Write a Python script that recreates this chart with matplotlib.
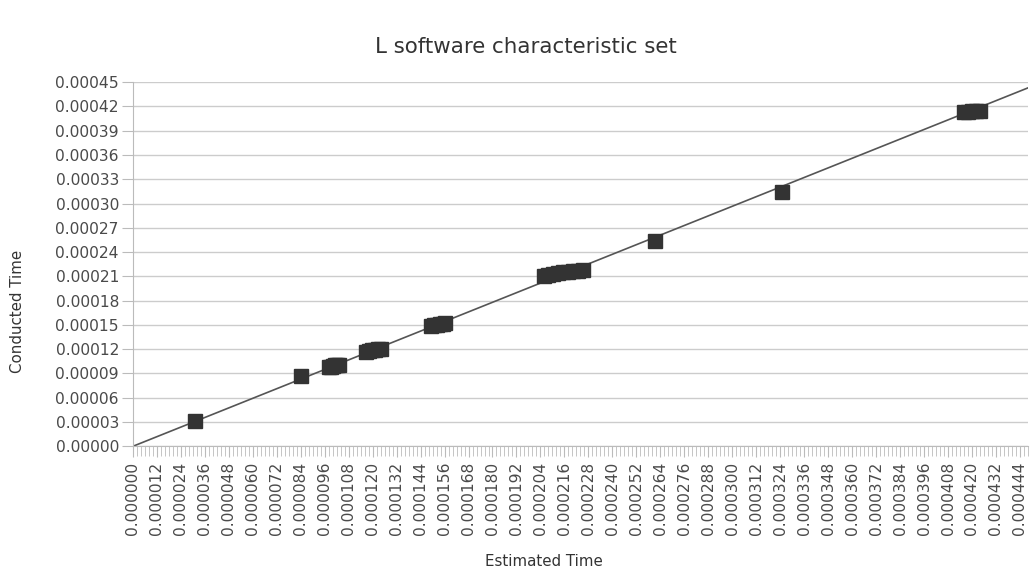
import numpy as np
import matplotlib
matplotlib.use("Agg")
import matplotlib.pyplot as plt
from matplotlib.ticker import MultipleLocator, FormatStrFormatter

# Measured points (estimated vs conducted), grouped by cluster
est_time = [
    0.0000310,
    0.0000840,
    0.0000980, 0.0000990, 0.0001000, 0.0001010, 0.0001020, 0.0001030,
    0.0001167, 0.0001180, 0.0001195, 0.0001210, 0.0001225, 0.0001242,
    0.0001490, 0.0001505, 0.0001520, 0.0001535, 0.0001550, 0.0001560,
    0.0002057, 0.0002080, 0.0002105, 0.0002130, 0.0002155, 0.0002180, 0.0002205, 0.0002230, 0.0002252,
    0.0002615,
    0.0003250,
    0.0004160, 0.0004180, 0.0004200, 0.0004220, 0.0004240,
]
cond_time = [
    0.0000310,
    0.0000865,
    0.0000975, 0.0000985, 0.0000992, 0.0001000, 0.0001005, 0.0001010,
    0.0001170, 0.0001180, 0.0001188, 0.0001195, 0.0001200, 0.0001208,
    0.0001485, 0.0001495, 0.0001502, 0.0001508, 0.0001515, 0.0001520,
    0.0002105, 0.0002120, 0.0002135, 0.0002145, 0.0002152, 0.0002158, 0.0002165, 0.0002172, 0.0002178,
    0.0002535,
    0.0003145,
    0.0004130, 0.0004135, 0.0004140, 0.0004142, 0.0004145,
]

# trend line through origin
trend_x = [0.0, 0.000448]
trend_y = [0.0, 0.000443]

x_max = 0.000448
y_max = 0.00045

plt.rcParams['font.family'] = ['DejaVu Sans']
fig = plt.figure(figsize=(10.30, 5.77), dpi=100)
ax = fig.add_axes([0.129, 0.2265, 0.869, 0.631])

ax.plot(trend_x, trend_y, color='#555555', linewidth=1.2, zorder=2)
ax.plot(est_time, cond_time, linestyle='none', marker='s', markersize=10.5,
        color='#333333', markeredgecolor='#333333', zorder=3)

ax.set_xlim(0, x_max)
ax.set_ylim(0, y_max)

ax.xaxis.set_major_locator(MultipleLocator(0.000012))
ax.xaxis.set_minor_locator(MultipleLocator(0.000002))
ax.xaxis.set_major_formatter(FormatStrFormatter('%.6f'))
ax.yaxis.set_major_locator(MultipleLocator(0.00003))
ax.yaxis.set_major_formatter(FormatStrFormatter('%.5f'))

ax.grid(axis='y', color='#cccccc', linewidth=1.0)
ax.set_axisbelow(True)

for s in ['top', 'right']:
    ax.spines[s].set_visible(False)
ax.spines['left'].set_color('#bbbbbb')
ax.spines['bottom'].set_color('#bbbbbb')

ax.tick_params(axis='x', which='both', direction='out', color='#bbbbbb',
               labelsize=11.2, labelcolor='#4a4a4a', labelrotation=90, pad=3)
ax.tick_params(axis='x', which='major', length=8)
ax.tick_params(axis='x', which='minor', length=7)
ax.tick_params(axis='y', which='major', direction='out', length=8, color='#bbbbbb',
               labelsize=11.2, labelcolor='#4a4a4a', pad=2)

# axis titles placed relative to the figure, like the original
fig.text(544 / 1030, 1 - 561 / 577, 'Estimated Time', fontsize=10.8,
         color='#333333', ha='center', va='center')
fig.text(18 / 1030, 1 - 311 / 577, 'Conducted Time', fontsize=10.8,
         color='#333333', ha='center', va='center', rotation=90)
fig.text(526 / 1030, 1 - 47 / 577, 'L software characteristic set', fontsize=15.4,
         color='#333333', ha='center', va='center')

fig.savefig('out.png', dpi=100)
